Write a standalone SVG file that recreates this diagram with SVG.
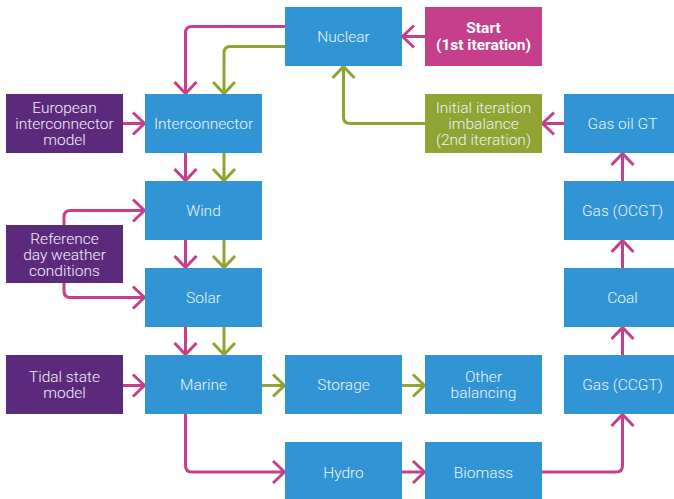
<svg xmlns="http://www.w3.org/2000/svg" width="674" height="499" viewBox="0 0 674 499">
<style>
.b{fill:#3194d5}
.p{fill:#5c2a7d}
.m{fill:#c63f8b}
.g{fill:#8fa432}
text{font-family:Roboto,"Liberation Sans",sans-serif;font-weight:300;font-size:15.5px;fill:#eef4fb;text-anchor:middle}
.bold{font-weight:700;fill:#fff}
.cm{fill:none;stroke:#c63f8b;stroke-width:3;stroke-linejoin:round;marker-end:url(#am)}
.cg{fill:none;stroke:#8fa432;stroke-width:3;stroke-linejoin:round;marker-end:url(#ag)}
</style>
<defs>
<marker id="am" markerUnits="userSpaceOnUse" viewBox="-16 -14 18 28" refX="0" refY="0" markerWidth="18" markerHeight="28" orient="auto">
<path d="M-12,-11 L-0.5,0 L-12,11" fill="none" stroke="#c63f8b" stroke-width="3"/>
</marker>
<marker id="ag" markerUnits="userSpaceOnUse" viewBox="-16 -14 18 28" refX="0" refY="0" markerWidth="18" markerHeight="28" orient="auto">
<path d="M-12,-11 L-0.5,0 L-12,11" fill="none" stroke="#8fa432" stroke-width="3"/>
</marker>
</defs>
<g id="connectors">
<path class="cm" d="M285,26.5 H192 Q185.5,26.5 185.5,33 V94"/>
<path class="cg" d="M285,46.5 H230.5 Q224,46.5 224,53 V94"/>
<path class="cm" d="M425,36.5 H402"/>
<path class="cg" d="M425,123.5 H350 Q343.5,123.5 343.5,117 V66"/>
<path class="cm" d="M564,123.5 H542"/>
<path class="cm" d="M123,123.5 H145"/>
<path class="cm" d="M185.5,153 V181"/>
<path class="cg" d="M224,153 V181"/>
<path class="cm" d="M185.5,240 V268"/>
<path class="cg" d="M224,240 V268"/>
<path class="cm" d="M185.5,327 V355"/>
<path class="cg" d="M224,327 V355"/>
<path class="cm" d="M64,225 V217 Q64,210.5 70.5,210.5 H145"/>
<path class="cm" d="M64,283 V291 Q64,297.5 70.5,297.5 H145"/>
<path class="cm" d="M123,385.5 H145"/>
<path class="cg" d="M262,385.5 H285"/>
<path class="cg" d="M402,385.5 H425"/>
<path class="cm" d="M185.5,414 V465.5 Q185.5,472 192,472 H285"/>
<path class="cm" d="M402,472 H425"/>
<path class="cm" d="M542,472 H616 Q622.5,472 622.5,465.5 V414"/>
<path class="cm" d="M622.5,355 V327"/>
<path class="cm" d="M622.5,268 V240"/>
<path class="cm" d="M622.5,181 V153"/>
</g>
<g id="nuclear"><rect class="b" x="285" y="7" width="117" height="59"/><text x="343.5" y="42">Nuclear</text></g>
<g id="start"><rect class="m" x="425" y="7" width="117" height="59"/><text class="bold" x="483.5" y="33">Start</text><text class="bold" x="483.5" y="50">(1st iteration)</text></g>
<g id="european"><rect class="p" x="6" y="94" width="117" height="59"/><text x="64.5" y="112.5">European</text><text x="64.5" y="128.5">interconnector</text><text x="64.5" y="144.5">model</text></g>
<g id="interconnector"><rect class="b" x="145" y="94" width="117" height="59"/><text x="203.5" y="129">Interconnector</text></g>
<g id="initial"><rect class="g" x="425" y="94" width="117" height="59"/><text x="483.5" y="112.5">Initial iteration</text><text x="483.5" y="128.5">imbalance</text><text x="483.5" y="144.5">(2nd iteration)</text></g>
<g id="gasoil"><rect class="b" x="564" y="94" width="117" height="59"/><text x="622.5" y="129">Gas oil GT</text></g>
<g id="wind"><rect class="b" x="145" y="181" width="117" height="59"/><text x="203.5" y="216">Wind</text></g>
<g id="reference"><rect class="p" x="6" y="225" width="117" height="58"/><text x="64.5" y="243.5">Reference</text><text x="64.5" y="259.5">day weather</text><text x="64.5" y="275.5">conditions</text></g>
<g id="ocgt"><rect class="b" x="564" y="181" width="117" height="59"/><text x="622.5" y="216">Gas (OCGT)</text></g>
<g id="solar"><rect class="b" x="145" y="268" width="117" height="59"/><text x="203.5" y="303">Solar</text></g>
<g id="coal"><rect class="b" x="564" y="268" width="117" height="59"/><text x="622.5" y="303">Coal</text></g>
<g id="tidal"><rect class="p" x="6" y="355" width="117" height="59"/><text x="64.5" y="382">Tidal state</text><text x="64.5" y="398">model</text></g>
<g id="marine"><rect class="b" x="145" y="355" width="117" height="59"/><text x="203.5" y="390">Marine</text></g>
<g id="storage"><rect class="b" x="285" y="355" width="117" height="59"/><text x="343.5" y="390">Storage</text></g>
<g id="other"><rect class="b" x="425" y="355" width="117" height="59"/><text x="483.5" y="382">Other</text><text x="483.5" y="398">balancing</text></g>
<g id="ccgt"><rect class="b" x="564" y="355" width="117" height="59"/><text x="622.5" y="390">Gas (CCGT)</text></g>
<g id="hydro"><rect class="b" x="285" y="442" width="117" height="59"/><text x="343.5" y="477.5">Hydro</text></g>
<g id="biomass"><rect class="b" x="425" y="442" width="117" height="59"/><text x="483.5" y="477.5">Biomass</text></g>
</svg>
